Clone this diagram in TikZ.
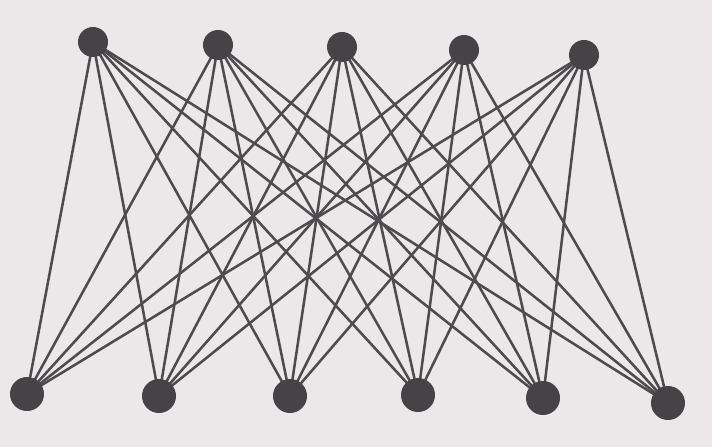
\documentclass[tikz,border=0pt]{standalone}
\usepackage{xcolor}
\usepackage{tikz}
\usetikzlibrary{positioning, calc, backgrounds}
\definecolor{paperbg}{RGB}{236, 232, 233}
\definecolor{inkgray}{RGB}{78, 74, 77}
\definecolor{dotgray}{RGB}{70, 66, 69}

\tikzset{
    vertex/.style={circle, fill=dotgray, draw=none, minimum size=0.75cm, inner sep=0pt},
    bigvertex/.style={vertex, minimum size=0.85cm},
    edgeline/.style={draw=inkgray, line width=1.8pt}
}

\begin{document}
\begin{tikzpicture}[x=0.025cm, y=-0.025cm]
    \useasboundingbox (0,0) rectangle (712,447);

    % top row
    \node[vertex] (t1) at (93,42) {};
    \node[vertex] (t2) at (218,45) {};
    \node[vertex] (t3) at (342,47) {};
    \node[vertex] (t4) at (464,50) {};
    \node[vertex] (t5) at (584,55) {};

    % bottom row
    \node[bigvertex] (b1) at (27,394) {};
    \node[bigvertex] (b2) at (159,396) {};
    \node[bigvertex] (b3) at (290,396) {};
    \node[bigvertex] (b4) at (418,395) {};
    \node[bigvertex] (b5) at (543,398) {};
    \node[bigvertex] (b6) at (668,403) {};

    % every top to every bottom, behind the dots
    \begin{scope}[on background layer]
        \fill[paperbg] (0,0) rectangle (712,447);
        \foreach \t in {1,...,5} {
            \foreach \b in {1,...,6} {
                \draw[edgeline] (t\t.center) -- (b\b.center);
            }
        }
    \end{scope}
\end{tikzpicture}
\end{document}
